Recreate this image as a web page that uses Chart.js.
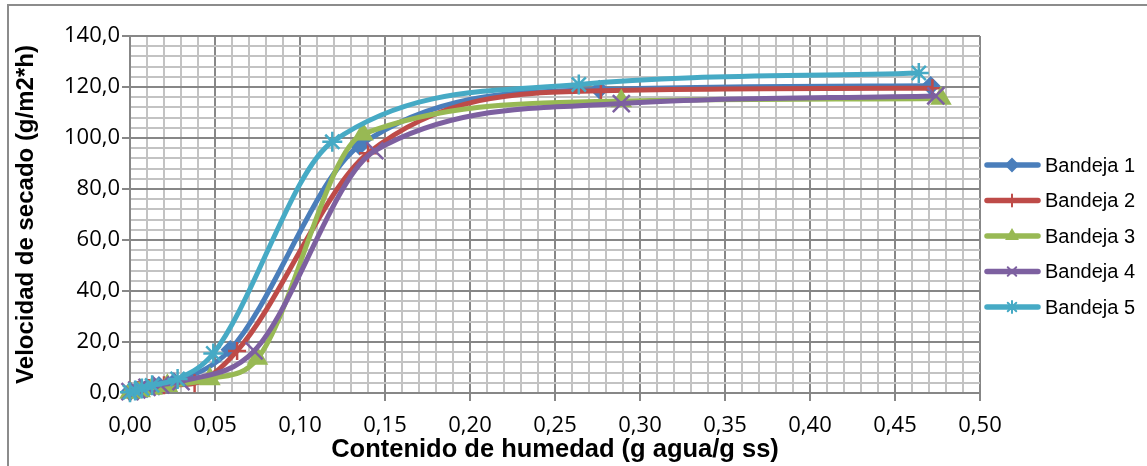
<!DOCTYPE html>
<html>
<head>
<meta charset="utf-8">
<title>Velocidad de secado</title>
<script src="https://cdn.jsdelivr.net/npm/chart.js@4.4.1/dist/chart.umd.min.js"></script>
<style>
  html, body { margin: 0; padding: 0; background: #fff; }
  #wrap { width: 1147px; height: 466px; }
</style>
</head>
<body>
<div id="wrap"><canvas id="chart" width="1147" height="466"></canvas></div>
<script>
// humedad (g agua/g ss) vs velocidad de secado (g/m2*h), one pair per bandeja
const seriesNames = ["Bandeja 1", "Bandeja 2", "Bandeja 3", "Bandeja 4", "Bandeja 5"];

const humedad1 = [0.000, 0.004, 0.010, 0.017, 0.026, 0.059, 0.135, 0.276, 0.471];
const veloc1   = [0.5, 1.0, 1.8, 2.8, 4.2, 17.0, 97.0, 119.0, 120.5];

const humedad2 = [0.000, 0.005, 0.011, 0.020, 0.038, 0.063, 0.140, 0.277, 0.472];
const veloc2   = [0.3, 1.2, 2.0, 3.0, 3.8, 16.5, 94.0, 118.5, 119.5];

const humedad3 = [0.000, 0.006, 0.013, 0.022, 0.047, 0.075, 0.137, 0.289, 0.477];
const veloc3   = [0.2, 0.8, 1.8, 2.8, 5.5, 13.5, 101.5, 114.5, 115.5];

const humedad4 = [0.000, 0.004, 0.010, 0.018, 0.030, 0.073, 0.144, 0.289, 0.474];
const veloc4   = [0.5, 1.2, 2.2, 3.2, 4.5, 16.5, 95.0, 113.5, 116.5];

const humedad5 = [0.000, 0.003, 0.007, 0.013, 0.028, 0.049, 0.119, 0.264, 0.464];
const veloc5   = [0.3, 1.0, 1.8, 3.0, 5.5, 15.5, 98.5, 121.0, 125.5];

const xLabelStep = 0.05;   // labelled x ticks, minor grid every 0.01
const yLabelStep = 20;     // labelled y ticks, minor grid every 4

const humedades = [humedad1, humedad2, humedad3, humedad4, humedad5];
const velocidades = [veloc1, veloc2, veloc3, veloc4, veloc5];

const colors = ["#4A7EBB", "#BE4B48", "#98B954", "#7D60A0", "#46AAC5"];
const markers = ["rectRot", "cross", "triangle", "crossRot", "star"];
const markerRadius = [8, 9, 10, 12, 10];

const isMajorX = v => Math.abs(Math.round(v * 100) % Math.round(xLabelStep * 100)) === 0;
const isMajorY = v => Math.abs(Math.round(v) % yLabelStep) === 0;

const datasets = seriesNames.map((name, i) => ({
  label: name,
  data: humedades[i].map((h, j) => ({ x: h, y: velocidades[i][j] })),
  borderColor: colors[i],
  backgroundColor: colors[i],
  borderWidth: 5,
  cubicInterpolationMode: 'monotone',
  pointStyle: markers[i],
  pointRadius: markerRadius[i],
  pointBorderWidth: 2.5,
  pointBackgroundColor: colors[i],
  pointBorderColor: colors[i],
  clip: false,
  order: seriesNames.length - i
}));

// white page plus the frame around the chart
const frame = {
  id: 'frame',
  beforeDraw(chart) {
    const ctx = chart.ctx;
    ctx.save();
    ctx.fillStyle = '#fff';
    ctx.fillRect(0, 0, chart.width, chart.height);
    ctx.strokeStyle = '#8C8C8C';
    ctx.lineWidth = 2;
    ctx.beginPath();
    ctx.moveTo(8, chart.height);
    ctx.lineTo(8, 5);
    ctx.lineTo(chart.width, 5);
    ctx.stroke();
    ctx.restore();
  }
};

// legend on the right: line sample with its marker, then the name
const sideLegend = {
  id: 'sideLegend',
  afterDraw(chart) {
    const ctx = chart.ctx;
    chart.data.datasets.forEach((ds, i) => {
      const y = 165 + i * 35.5;
      ctx.save();
      ctx.strokeStyle = ds.borderColor;
      ctx.fillStyle = ds.borderColor;
      ctx.lineWidth = 5.5;
      ctx.lineCap = 'round';
      ctx.beginPath();
      ctx.moveTo(987, y);
      ctx.lineTo(1038, y);
      ctx.stroke();
      ctx.lineWidth = 2;
      Chart.helpers.drawPoint(ctx, {
        pointStyle: ds.pointStyle, radius: 6, borderWidth: 2, rotation: 0
      }, 1012, y);
      ctx.fillStyle = '#000';
      ctx.font = '20px "Liberation Sans", Arial, sans-serif';
      ctx.textBaseline = 'middle';
      ctx.textAlign = 'left';
      ctx.fillText(ds.label, 1045, y + 1);
      ctx.restore();
    });
  }
};

new Chart(document.getElementById('chart'), {
  type: 'line',
  data: { datasets },
  plugins: [frame, sideLegend],
  options: {
    responsive: false,
    animation: false,
    devicePixelRatio: 1,
    layout: { padding: { top: 36, right: 167, left: 10, bottom: 0 } },
    plugins: {
      legend: { display: false },
      tooltip: { enabled: false }
    },
    scales: {
      x: {
        type: 'linear',
        min: 0,
        max: 0.5,
        ticks: {
          stepSize: 0.01,
          maxTicksLimit: 100,
          autoSkip: false,
          maxRotation: 0,
          padding: 12,
          color: '#000',
          font: { family: 'Open Sans', size: 22 },
          callback: v => isMajorX(v) ? v.toFixed(2).replace('.', ',') : ''
        },
        grid: {
          color: c => isMajorX(c.tick.value) ? '#878787' : '#C3C3C3',
          lineWidth: 2,
          tickLength: 8,
          tickColor: c => isMajorX(c.tick.value) ? '#878787' : 'rgba(0,0,0,0)'
        },
        border: { color: '#878787', width: 2 },
        title: {
          display: true,
          text: 'Contenido de humedad (g agua/g ss)',
          color: '#000',
          font: { family: 'Liberation Sans', size: 25.5, weight: 'bold' },
          padding: { top: 0, bottom: 1 }
        },
        afterFit: s => { s.height = 73; }
      },
      y: {
        min: 0,
        max: 140,
        ticks: {
          stepSize: 4,
          maxTicksLimit: 100,
          autoSkip: false,
          padding: 2,
          color: '#000',
          font: { family: 'Open Sans', size: 22 },
          callback: v => isMajorY(v) ? v.toFixed(1).replace('.', ',') : ''
        },
        grid: {
          color: c => isMajorY(c.tick.value) ? '#878787' : '#C3C3C3',
          lineWidth: 2,
          tickLength: 8,
          tickColor: c => isMajorY(c.tick.value) ? '#878787' : 'rgba(0,0,0,0)'
        },
        border: { color: '#878787', width: 2 },
        title: {
          display: true,
          text: 'Velocidad de secado (g/m2*h)',
          color: '#000',
          font: { family: 'Liberation Sans', size: 24, weight: 'bold' },
          padding: { top: 2, bottom: 0 }
        },
        afterFit: s => { s.width = 120; }
      }
    }
  }
});
</script>
</body>
</html>
